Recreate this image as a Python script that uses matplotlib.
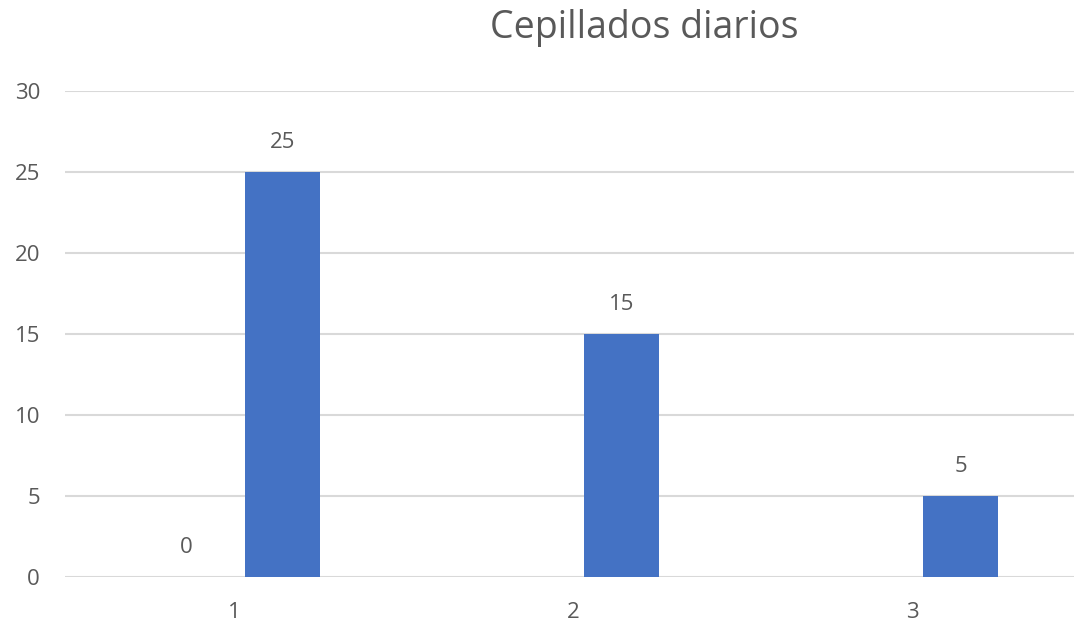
import numpy as np
import matplotlib
matplotlib.use("Agg")
import matplotlib.pyplot as plt

categories = ["1", "2", "3"]
serie_a = [0, np.nan, np.nan]
serie_b = [25, 15, 5]
title = "Cepillados diarios"

gray = "#595959"
blue = "#4472C4"
plt.rcParams['font.family'] = ['Open Sans', 'DejaVu Sans']

fig = plt.figure(figsize=(10.74, 6.29), dpi=100)
ax = fig.add_axes([65 / 1074, 1 - 577 / 629, 1017 / 1074, (577 - 91) / 629])

x = np.arange(len(categories))
w = 0.222
off = 0.142
bars_a = ax.bar(x - off, serie_a, w, color=blue, zorder=3)
bars_b = ax.bar(x + off, serie_b, w, color=blue, zorder=3)

for rects, vals in ((bars_a, serie_a), (bars_b, serie_b)):
    for r, v in zip(rects, vals):
        if np.isnan(v):
            continue
        ax.annotate(f"{v:g}", (r.get_x() + r.get_width() / 2, v), xytext=(0, 14),
                    textcoords="offset points", ha="center", va="bottom",
                    fontsize=16, color=gray)

ax.set_xlim(-0.5, 2.5)
ax.set_ylim(0, 30)
ax.set_yticks(range(0, 31, 5))
ax.set_xticks(x)
ax.set_xticklabels(categories)
ax.yaxis.grid(True, color="#D9D9D9", linewidth=1.5, zorder=0)
ax.tick_params(length=0, labelsize=16, labelcolor=gray)
ax.tick_params(axis="y", pad=18)
ax.tick_params(axis="x", pad=18)
for s in ax.spines.values():
    s.set_visible(False)

fig.text(644 / 1074, 1 - 38 / 629, title, ha="center", va="baseline", fontsize=27, color=gray)

fig.savefig("out.png", dpi=100)
